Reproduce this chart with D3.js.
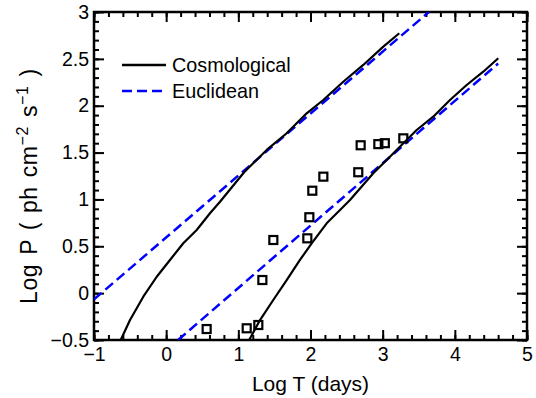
<!DOCTYPE html>
<html>
<head>
    <meta charset="utf-8">
    <title>Log P vs Log T</title>
    <script src="https://d3js.org/d3.v7.min.js"></script>
    <style>
        body { margin: 0; background: #fff; }
        svg text { font-family: "Liberation Sans", Arial, sans-serif; fill: #000; }
    </style>
</head>
<body>
<svg id="chart" width="536" height="398"></svg>

<script>
    // valores (log T en dias, log P)
    const xTicks = [-1, 0, 1, 2, 3, 4, 5];
    const yTicks = [-0.5, 0, 0.5, 1, 1.5, 2, 2.5, 3];

    const cosmoUpperT = [-0.63, -0.501, -0.317, -0.131, 0.053, 0.237, 0.423, 0.607, 0.746, 1.08, 1.393, 1.67, 1.947, 2.177, 2.454, 2.731, 3.009, 3.23];
    const cosmoUpperP = [-0.5, -0.287, -0.038, 0.175, 0.354, 0.532, 0.674, 0.852, 0.976, 1.29, 1.528, 1.706, 1.919, 2.061, 2.256, 2.435, 2.63, 2.773];

    const cosmoLowerT = [1.15, 1.30, 1.484, 1.67, 1.854, 2.016, 2.224, 2.409, 2.547, 2.87, 3.194, 3.471, 3.701, 3.933, 4.164, 4.394, 4.602];
    const cosmoLowerP = [-0.5, -0.287, -0.073, 0.14, 0.354, 0.532, 0.745, 0.887, 0.994, 1.279, 1.528, 1.741, 1.883, 2.061, 2.221, 2.363, 2.506];

    const euclUpperT = [-1, 3.64];
    const euclUpperP = [-0.067, 3.0];
    const euclLowerT = [0.165, 4.6];
    const euclLowerP = [-0.5, 2.45];

    const obsT = [0.561, 1.116, 1.277, 1.333, 1.485, 1.956, 1.984, 2.025, 2.178, 2.662, 2.695, 2.94, 3.03, 3.286];
    const obsP = [-0.383, -0.375, -0.34, 0.14, 0.567, 0.585, 0.81, 1.093, 1.243, 1.29, 1.578, 1.59, 1.60, 1.652];

    const svg = d3.select("#chart");
    const margin = { top: 12, right: 9, bottom: 58, left: 94 };
    const W = +svg.attr("width"), H = +svg.attr("height");

    const x = d3.scaleLinear().domain([-1, 5]).range([margin.left, W - margin.right]);
    const y = d3.scaleLinear().domain([-0.5, 3]).range([H - margin.bottom, margin.top]);

    const fmt = v => String(v).replace("-", "\u2212");
    const xMinor = d3.range(-1, 5.001, 0.2).map(v => +v.toFixed(1));
    const yMinor = d3.range(-0.5, 3.001, 0.1).map(v => +v.toFixed(1));

    svg.append("clipPath").attr("id", "clip")
        .append("rect")
        .attr("x", margin.left).attr("y", margin.top)
        .attr("width", W - margin.left - margin.right)
        .attr("height", H - margin.top - margin.bottom);

    // ejes (ticks hacia adentro en los cuatro lados)
    function ejes(sel) {
        sel.selectAll(".domain").remove();
        sel.selectAll("line").attr("stroke", "#000").attr("stroke-width", 2);
    }
    svg.append("g").attr("transform", `translate(0,${y(-0.5)})`)
        .call(d3.axisBottom(x).tickValues(xMinor).tickSize(-5).tickFormat("")).call(ejes);
    svg.append("g").attr("transform", `translate(0,${y(3)})`)
        .call(d3.axisTop(x).tickValues(xMinor).tickSize(-5).tickFormat("")).call(ejes);
    svg.append("g").attr("transform", `translate(${x(-1)},0)`)
        .call(d3.axisLeft(y).tickValues(yMinor).tickSize(-5).tickFormat("")).call(ejes);
    svg.append("g").attr("transform", `translate(${x(5)},0)`)
        .call(d3.axisRight(y).tickValues(yMinor).tickSize(-5).tickFormat("")).call(ejes);

    const xAxis = svg.append("g").attr("transform", `translate(0,${y(-0.5)})`)
        .call(d3.axisBottom(x).tickValues(xTicks).tickSize(-10).tickPadding(7).tickFormat(fmt)).call(ejes);
    svg.append("g").attr("transform", `translate(0,${y(3)})`)
        .call(d3.axisTop(x).tickValues(xTicks).tickSize(-10).tickFormat("")).call(ejes);
    const yAxis = svg.append("g").attr("transform", `translate(${x(-1)},0)`)
        .call(d3.axisLeft(y).tickValues(yTicks).tickSize(-10).tickPadding(5).tickFormat(fmt)).call(ejes);
    svg.append("g").attr("transform", `translate(${x(5)},0)`)
        .call(d3.axisRight(y).tickValues(yTicks).tickSize(-10).tickFormat("")).call(ejes);

    xAxis.selectAll("text").attr("font-size", 19.5).attr("font-family", null);
    yAxis.selectAll("text").attr("font-size", 19.5).attr("font-family", null);

    // marco
    svg.append("rect")
        .attr("x", margin.left).attr("y", margin.top)
        .attr("width", W - margin.left - margin.right)
        .attr("height", H - margin.top - margin.bottom)
        .attr("fill", "none").attr("stroke", "#000").attr("stroke-width", 2.5);

    const plot = svg.append("g").attr("clip-path", "url(#clip)");
    const linea = d3.line().x(d => x(d[0])).y(d => y(d[1]));
    const zipear = (a, b) => a.map((v, i) => [v, b[i]]);

    [[euclUpperT, euclUpperP], [euclLowerT, euclLowerP]].forEach(([t, p]) => {
        plot.append("path").datum(zipear(t, p))
            .attr("fill", "none").attr("stroke", "#0000ff")
            .attr("stroke-width", 2.5).attr("stroke-dasharray", "10,5")
            .attr("d", linea);
    });
    [[cosmoUpperT, cosmoUpperP], [cosmoLowerT, cosmoLowerP]].forEach(([t, p]) => {
        plot.append("path").datum(zipear(t, p))
            .attr("fill", "none").attr("stroke", "#000")
            .attr("stroke-width", 2.2).attr("stroke-linejoin", "round")
            .attr("d", linea);
    });

    // observaciones
    svg.append("g").selectAll("rect")
        .data(zipear(obsT, obsP))
        .join("rect")
        .attr("x", d => x(d[0]) - 4).attr("y", d => y(d[1]) - 4)
        .attr("width", 8).attr("height", 8)
        .attr("fill", "none").attr("stroke", "#000").attr("stroke-width", 2.2);

    // leyenda
    const ley = svg.append("g");
    ley.append("line").attr("x1", 122).attr("x2", 166).attr("y1", 65).attr("y2", 65)
        .attr("stroke", "#000").attr("stroke-width", 2.5);
    ley.append("text").attr("x", 172).attr("y", 72).attr("font-size", 19.8).text("Cosmological");
    ley.append("line").attr("x1", 122).attr("x2", 166).attr("y1", 91).attr("y2", 91)
        .attr("stroke", "#0000ff").attr("stroke-width", 2.5).attr("stroke-dasharray", "10,5");
    ley.append("text").attr("x", 172).attr("y", 98).attr("font-size", 19.8).text("Euclidean");

    // titulos de ejes
    svg.append("text")
        .attr("x", (margin.left + W - margin.right) / 2).attr("y", 391)
        .attr("text-anchor", "middle").attr("font-size", 21)
        .text("Log T (days)");

    const yl = svg.append("text")
        .attr("transform", "rotate(-90)")
        .attr("x", -304).attr("y", 37)
        .attr("font-size", 23)
        .attr("letter-spacing", 0.6)
        .attr("word-spacing", 2);
    yl.append("tspan").text("Log P ( ph cm");
    yl.append("tspan").attr("dy", -9).attr("font-size", 16).text("\u22122");
    yl.append("tspan").attr("dy", 9).text(" s");
    yl.append("tspan").attr("dy", -9).attr("font-size", 16).text("\u22121");
    yl.append("tspan").attr("dy", 9).text(" )");
</script>
</body>
</html>
